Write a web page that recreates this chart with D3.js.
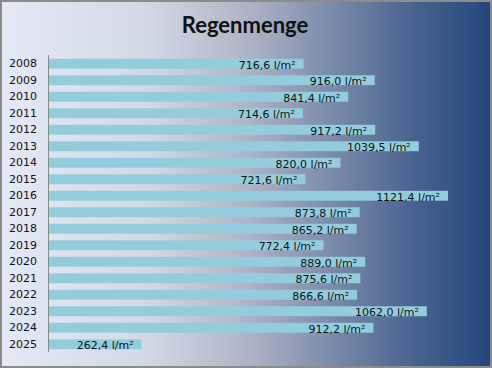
<!DOCTYPE html>
<html><head><meta charset="utf-8">
<script src="https://cdn.jsdelivr.net/npm/d3@7/dist/d3.min.js"></script>
<style>html,body{margin:0;padding:0;background:#fff;}svg{display:block;}</style>
</head><body>
<svg id="chart" width="492" height="368"></svg>
<script>
const years = ["2008","2009","2010","2011","2012","2013","2014","2015","2016","2017","2018","2019","2020","2021","2022","2023","2024","2025"];
const rain = [716.6,916.0,841.4,714.6,917.2,1039.5,820.0,721.6,1121.4,873.8,865.2,772.4,889.0,875.6,866.6,1062.0,912.2,262.4];
const title = "Regenmenge";

const W = 492, H = 368;
const svg = d3.select("#chart");
const defs = svg.append("defs");
const grad = defs.append("linearGradient").attr("id","bg").attr("x1","0").attr("x2","1").attr("y1","0").attr("y2","0");
[[0,"#e3e9f5"],[0.3,"#d3d8e5"],[0.5,"#b0b5c6"],[0.7,"#7385a6"],[0.85,"#47618f"],[1,"#22477a"]]
  .forEach(s=>grad.append("stop").attr("offset",s[0]).attr("stop-color",s[1]));

svg.append("rect").attr("x",1).attr("y",1).attr("width",W-2).attr("height",H-2)
  .attr("fill","url(#bg)").attr("stroke","#8c8c8c").attr("stroke-width",2);

const x0 = 48;
const x = d3.scaleLinear().domain([0,1200]).range([x0, x0 + 1200*0.3567]);
const y = d3.scaleBand().domain(years).range([55.5, 352.5]).paddingInner(0.4).paddingOuter(0.2);

const fontF = "Tahoma, 'DejaVu Sans', Verdana, sans-serif";

svg.append("text").attr("x",245).attr("y",33).attr("text-anchor","middle")
  .attr("font-family","Lato, 'Open Sans', sans-serif").attr("font-weight","bold")
  .attr("font-size",22).attr("fill","#111").text(title);

svg.selectAll("rect.bar").data(years).enter().append("rect").attr("class","bar")
  .attr("x",x0).attr("y",d=>y(d)).attr("height",y.bandwidth())
  .attr("width",(d,i)=>x(rain[i])-x0).attr("fill","#93cddd");

const yAxis = d3.axisLeft(y).tickSize(0).tickPadding(11);
const ga = svg.append("g").attr("transform",`translate(${x0},0)`).call(yAxis);
ga.select(".domain").attr("stroke","#8a8a8a").attr("d","M0.5,55V352");
ga.selectAll("text").attr("font-family",fontF).attr("font-size",11).attr("fill","#111");

svg.selectAll("text.lbl").data(years).enter().append("text").attr("class","lbl")
  .attr("x",(d,i)=>x(rain[i])-8).attr("y",d=>y(d)+y.bandwidth()/2+5)
  .attr("text-anchor","end").attr("font-family",fontF).attr("font-size",11).attr("fill","#111")
  .text((d,i)=>d3.format(".1f")(rain[i]).replace(".",",")+" l/m²");
</script>
</body></html>
